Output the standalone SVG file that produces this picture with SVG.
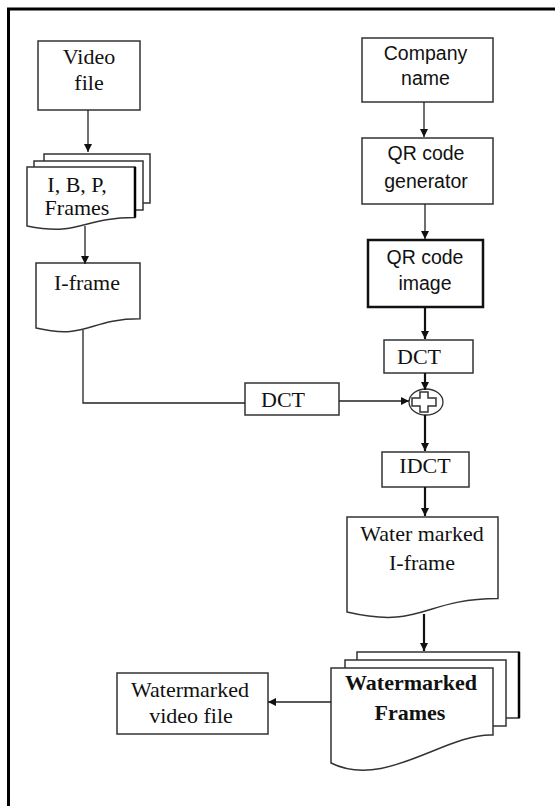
<svg xmlns="http://www.w3.org/2000/svg" width="555" height="806" viewBox="0 0 555 806">
<defs>
<style>
.bx{fill:#fff;stroke:#333;stroke-width:1.5}
.bk{fill:#fff;stroke:#111;stroke-width:2.5}
.tm{font-family:"Liberation Serif","Times New Roman",serif;font-size:22px;fill:#111;text-anchor:middle}
.sn{font-family:"Liberation Sans",Arial,sans-serif;font-size:19.5px;fill:#111;text-anchor:middle}
.b{font-weight:bold}
.ln{fill:none;stroke:#222;stroke-width:1.3}
.lt{fill:none;stroke:#111;stroke-width:2.2}
</style>
<marker id="a" markerUnits="userSpaceOnUse" markerWidth="9" markerHeight="8" refX="8" refY="4" orient="auto"><path d="M0,0 L8,4 L0,8 z" fill="#111"/></marker>
</defs>
<rect width="555" height="806" fill="#fff"/>
<path d="M8.5,806 V9 H555" fill="none" stroke="#000" stroke-width="3"/>

<g id="video-file">
<rect class="bx" x="38" y="41" width="102" height="69"/>
<text class="tm" x="89" y="63.5">Video</text>
<text class="tm" x="89" y="90">file</text>
</g>

<g id="ibp-frames">
<rect class="bx" x="44" y="154" width="106" height="49"/>
<rect class="bx" x="34" y="161" width="109" height="49"/>
<path class="bx" d="M27,167 H135 V217.5 C81,217.5 81,236.8 27,226 Z"/>
<path d="M135,167 V217.5" stroke="#000" stroke-width="2.5"/>
<text class="tm" x="77" y="192">I, B, P,</text>
<text class="tm" x="77" y="215">Frames</text>
</g>

<g id="i-frame">
<path class="bx" d="M36,263 H140 V318.8 C88,318.8 88,340 36,328 Z"/>
<text class="tm" x="87" y="290">I-frame</text>
</g>

<g id="dct-left">
<rect class="bx" x="245" y="383" width="94" height="32"/>
<text class="tm" x="283" y="406.5">DCT</text>
</g>

<g id="company-name">
<rect class="bx" x="362" y="38" width="131" height="64"/>
<text class="sn" x="425.5" y="59.5">Company</text>
<text class="sn" x="425.5" y="85">name</text>
</g>

<g id="qr-generator">
<rect class="bx" x="362" y="138" width="131" height="66"/>
<text class="sn" x="426" y="160">QR code</text>
<text class="sn" x="426" y="188">generator</text>
</g>

<g id="qr-image">
<rect class="bk" x="368" y="240" width="115" height="67"/>
<text class="sn" x="425" y="264">QR code</text>
<text class="sn" x="425" y="290">image</text>
</g>

<g id="dct-right">
<rect class="bx" x="384" y="340" width="89" height="33"/>
<text class="tm" x="419" y="364">DCT</text>
</g>

<g id="adder">
<ellipse cx="426" cy="402" rx="17" ry="13" fill="#fff" stroke="#333" stroke-width="1.3"/>
<path d="M420,392 H428 V398 H436 V406 H428 V412 H420 V406 H412 V398 H420 Z" fill="#fff" stroke="#333" stroke-width="1.5"/>
</g>

<g id="idct">
<rect class="bx" x="382" y="452" width="87" height="35"/>
<text class="tm" x="425" y="472.5">IDCT</text>
</g>

<g id="wm-iframe">
<path class="bx" d="M347,517 H498 V598.6 C422.5,598.6 422.5,629.6 347,612 Z"/>
<text class="tm" x="422" y="540.5">Water marked</text>
<text class="tm" x="422" y="570">I-frame</text>
</g>

<g id="wm-frames">
<rect class="bx" x="357" y="652" width="162" height="66"/>
<path d="M519,652 V718" stroke="#000" stroke-width="2.5"/>
<rect class="bx" x="345" y="660" width="161" height="66"/>
<path class="bx" d="M331,668 H493 V735 C445,733 385,790 331,763 Z"/>
<text class="tm b" x="411" y="690">Watermarked</text>
<text class="tm b" x="410" y="720">Frames</text>
</g>

<g id="wm-video">
<rect class="bx" x="117" y="673" width="151" height="61"/>
<text class="tm" x="190" y="696.5">Watermarked</text>
<text class="tm" x="191" y="723">video file</text>
</g>

<g id="connectors">
<path class="ln" d="M88,110 V152" marker-end="url(#a)"/>
<path class="ln" d="M85,226 V264" marker-end="url(#a)"/>
<path class="ln" d="M83,330 V403 H245"/>
<path class="ln" d="M339,401 H409" marker-end="url(#a)"/>
<path class="ln" d="M424,102 V137" marker-end="url(#a)"/>
<path class="ln" d="M425,204 V239" marker-end="url(#a)"/>
<path class="lt" d="M425,307 V339" marker-end="url(#a)"/>
<path class="lt" d="M425,373 V390" marker-end="url(#a)"/>
<path class="lt" d="M425,415 V451" marker-end="url(#a)"/>
<path class="lt" d="M425,487 V516" marker-end="url(#a)"/>
<path class="lt" d="M424,614 V651" marker-end="url(#a)"/>
<path class="ln" d="M331,702 H268" marker-end="url(#a)"/>
</g>
</svg>
